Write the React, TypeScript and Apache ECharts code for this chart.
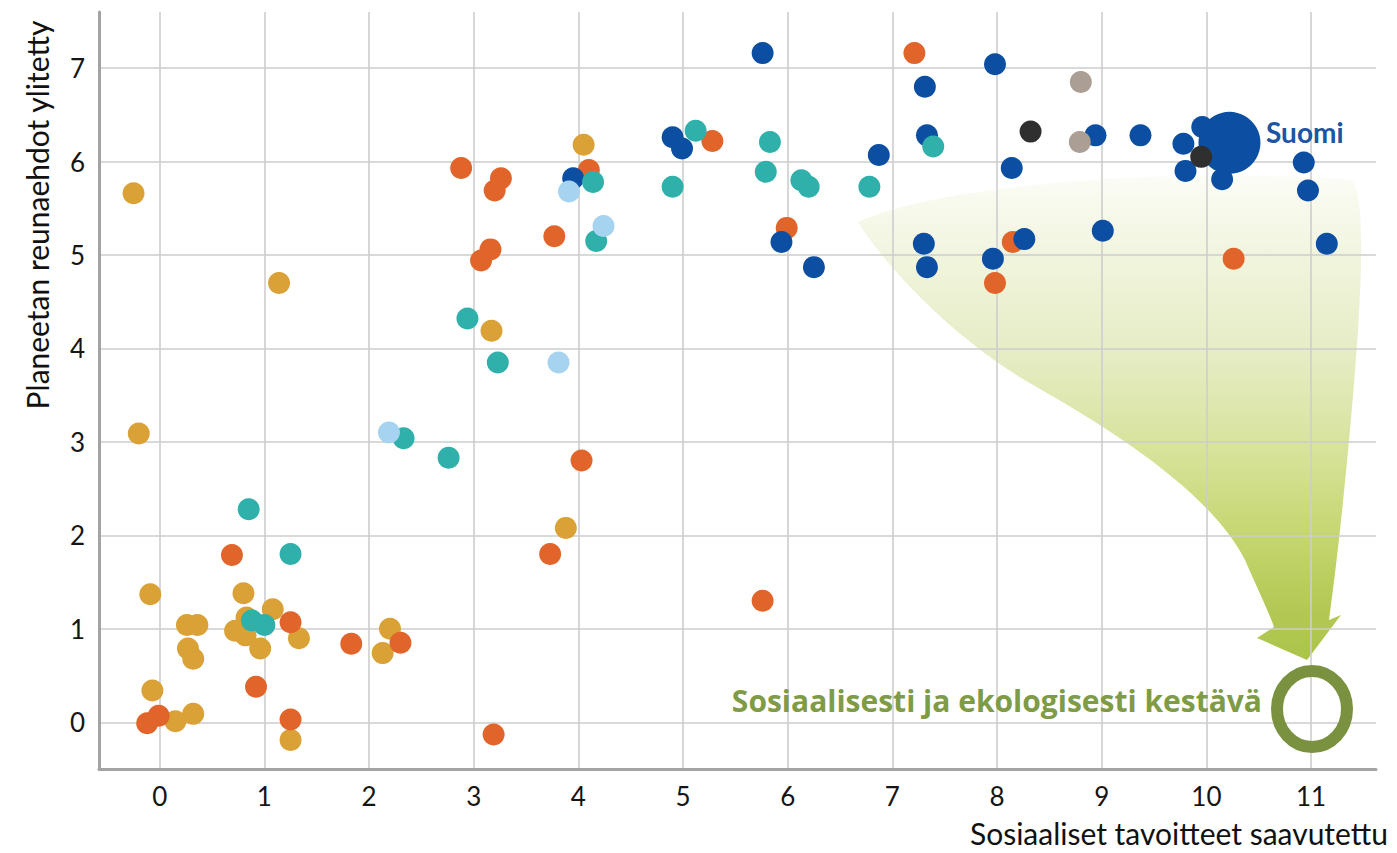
import React, { useEffect, useRef } from "react";
import * as echarts from "echarts";

const xTicks = [0, 1, 2, 3, 4, 5, 6, 7, 8, 9, 10, 11];
const yTicks = [0, 1, 2, 3, 4, 5, 6, 7];

const xTitle = "Sosiaaliset tavoitteet saavutettu";
const yTitle = "Planeetan reunaehdot ylitetty";
const highlightLabel = "Suomi";
const goalLabel = "Sosiaalisesti ja ekologisesti kestävä";

const suomi = [[10.22, 6.2]];

const gold = [
  [-0.25, 5.66], [-0.2, 3.09], [-0.09, 1.37], [0.26, 1.04], [0.36, 1.04],
  [0.27, 0.79], [0.32, 0.68], [-0.07, 0.34], [0.15, 0.01], [0.32, 0.09],
  [0.8, 1.38], [0.83, 1.12], [0.72, 0.98], [0.82, 0.93], [1.08, 1.21],
  [0.96, 0.79], [1.33, 0.9], [1.25, -0.19], [2.2, 1.0], [2.13, 0.74],
  [1.14, 4.7], [3.17, 4.19], [3.88, 2.08], [4.05, 6.18],
];

const orange = [
  [0.69, 1.79], [-0.12, -0.01], [-0.01, 0.07], [0.92, 0.38], [1.25, 1.07],
  [1.25, 0.03], [1.83, 0.84], [2.3, 0.85], [3.19, -0.13], [2.88, 5.93],
  [3.26, 5.82], [3.2, 5.69], [3.16, 5.06], [3.07, 4.94], [3.77, 5.2],
  [4.1, 5.91], [5.28, 6.22], [4.03, 2.8], [3.73, 1.8], [5.76, 1.3],
  [5.99, 5.29], [8.15, 5.14], [7.98, 4.7], [10.26, 4.96], [7.21, 7.16],
];

const blue = [
  [3.95, 5.82], [4.9, 6.26], [4.99, 6.14], [5.76, 7.16], [6.87, 6.07],
  [8.14, 5.93], [5.94, 5.14], [6.25, 4.87], [7.3, 5.12], [7.33, 4.87],
  [7.96, 4.96], [8.26, 5.17], [9.01, 5.26], [7.98, 7.04], [7.31, 6.8],
  [7.33, 6.28], [8.94, 6.28], [9.37, 6.28], [9.78, 6.19], [9.96, 6.37],
  [9.8, 5.9], [10.15, 5.81], [10.93, 5.99], [10.97, 5.69], [11.15, 5.12],
];

const teal = [
  [0.88, 1.09], [1.0, 1.04], [0.85, 2.28], [1.25, 1.8], [2.33, 3.04],
  [2.76, 2.83], [2.94, 4.32], [3.23, 3.85], [4.14, 5.78], [4.17, 5.15],
  [5.12, 6.33], [4.9, 5.73], [5.83, 6.21], [5.79, 5.89], [6.13, 5.8],
  [6.2, 5.73], [6.78, 5.73], [7.39, 6.16],
];

const lightBlue = [[3.91, 5.68], [4.24, 5.31], [3.81, 3.85], [2.19, 3.1]];
const beige = [[8.8, 6.85], [8.79, 6.21]];
const black = [[8.32, 6.32], [9.95, 6.05]];

const funnelPath =
  "M 858 222 C 888 270 960 345 1040 389 C 1130 440 1215 500 1245 560 " +
  "C 1258 590 1268 610 1274 627 L 1257 638 L 1307 660 L 1341 615 L 1329 620 " +
  "C 1340 540 1352 420 1358 330 C 1363 250 1363 195 1352 180 " +
  "C 1200 168 950 180 858 222 Z";

const FONT = "Lato, 'Open Sans', 'Noto Sans', sans-serif";
const BOLD_FONT = "'Open Sans', Lato, 'Noto Sans', sans-serif";

export default function App() {
  const ref = useRef<HTMLDivElement>(null);

  useEffect(() => {
    if (!ref.current) return;
    echarts.graphic.registerShape(
      "greenFunnel",
      echarts.graphic.extendPath(funnelPath, {})
    );
    const chart = echarts.init(ref.current, null, { renderer: "svg" });

    const mk = (name: string, data: number[][], color: string, size = 22) => ({
      type: "scatter",
      name,
      data,
      symbol: "circle",
      symbolSize: size,
      itemStyle: { color, opacity: 1 },
      z: 3,
      silent: true,
    });

    const axisLabel = {
      fontSize: 26,
      color: "#151515",
      fontFamily: FONT,
      margin: 14,
      formatter: "{value}",
    };

    chart.setOption({
      animation: false,
      backgroundColor: "#ffffff",
      grid: { left: 99, top: 12, width: 1277, height: 757, containLabel: false },
      xAxis: {
        type: "value",
        min: -0.58,
        max: 11.62,
        axisLine: { show: true, onZero: false, lineStyle: { color: "#a3a3a3", width: 3 } },
        axisTick: { show: false, customValues: xTicks },
        axisLabel: { ...axisLabel, customValues: xTicks },
        splitLine: { show: true, lineStyle: { color: "#cdcdcd", width: 1.6 } },
      },
      yAxis: {
        type: "value",
        min: -0.5,
        max: 7.6,
        axisLine: { show: true, onZero: false, lineStyle: { color: "#a3a3a3", width: 3 } },
        axisTick: { show: false, customValues: yTicks },
        axisLabel: { ...axisLabel, customValues: yTicks },
        splitLine: { show: true, lineStyle: { color: "#cdcdcd", width: 1.6 } },
      },
      graphic: {
        elements: [
          {
            type: "greenFunnel",
            x: 0,
            y: 0,
            z: -10,
            silent: true,
            shape: {},
            style: {
              fill: new echarts.graphic.LinearGradient(0, 0, 0, 1, [
                { offset: 0, color: "#fbfcf5" },
                { offset: 0.16, color: "#f0f4dc" },
                { offset: 0.38, color: "#e3eabe" },
                { offset: 0.6, color: "#d1de8a" },
                { offset: 0.75, color: "#bfd262" },
                { offset: 0.89, color: "#adc447" },
                { offset: 1, color: "#a5bf3b" },
              ]),
              opacity: 0.92,
            },
          },
          {
            type: "ellipse",
            z: 50,
            silent: true,
            shape: { cx: 1312, cy: 709, rx: 35, ry: 38 },
            style: { fill: "none", stroke: "#7a9240", lineWidth: 12 },
          },
          {
            type: "text",
            z: 50,
            x: 1262,
            y: 700,
            silent: true,
            style: {
              text: goalLabel,
              fill: "#7f9b45",
              fontSize: 30,
              fontWeight: "bold",
              fontFamily: BOLD_FONT,
              align: "right",
              verticalAlign: "middle",
            },
          },
          {
            type: "text",
            z: 50,
            x: 1266,
            y: 132,
            silent: true,
            style: {
              text: highlightLabel,
              fill: "#1c55a3",
              fontSize: 28,
              fontWeight: "bold",
              fontFamily: FONT,
              align: "left",
              verticalAlign: "middle",
            },
          },
          {
            type: "text",
            z: 50,
            x: 1388,
            y: 833,
            silent: true,
            style: {
              text: xTitle,
              fill: "#111111",
              fontSize: 30,
              fontFamily: FONT,
              align: "right",
              verticalAlign: "middle",
            },
          },
          {
            type: "text",
            z: 50,
            x: 37,
            y: 215,
            rotation: Math.PI / 2,
            silent: true,
            style: {
              text: yTitle,
              fill: "#111111",
              fontSize: 30,
              fontFamily: FONT,
              align: "center",
              verticalAlign: "middle",
            },
          },
        ],
      },
      series: [
        mk("Suomi", suomi, "#0c4fa2", 62),
        mk("gold", gold, "#d9a136"),
        mk("orange", orange, "#e1652b"),
        mk("blue", blue, "#0c4fa2"),
        mk("teal", teal, "#2fb0aa"),
        mk("lightBlue", lightBlue, "#a6d3ef"),
        mk("beige", beige, "#ab9f95"),
        mk("black", black, "#2f2f2f"),
      ],
    });

    return () => {
      chart.dispose();
    };
  }, []);

  return (
    <div
      ref={ref}
      style={{ position: "fixed", left: 0, top: 0, width: 1397, height: 853 }}
    />
  );
}
